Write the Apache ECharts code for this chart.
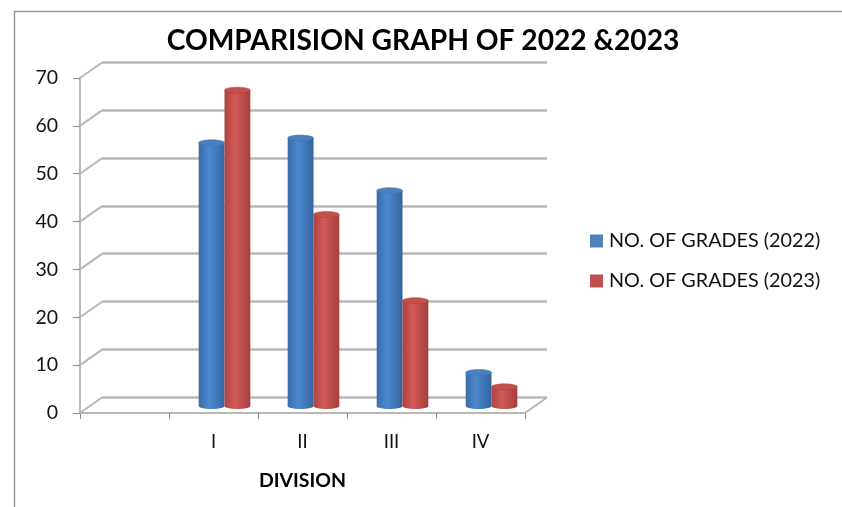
<!DOCTYPE html>
<html><head><meta charset="utf-8">
<style>html,body{margin:0;padding:0;background:#fff}#c{width:842px;height:507px}</style>
<script src="https://cdn.jsdelivr.net/npm/echarts@6/dist/echarts.min.js"></script>
</head><body><div id="c"></div>
<script>
const categories = ['', 'I', 'II', 'III', 'IV'];
const grades2022 = [null, 55, 56, 45, 7];
const grades2023 = [null, 66, 40, 22, 4];
const yTicks = [0, 10, 20, 30, 40, 50, 60, 70];
const titleText = 'COMPARISION GRAPH OF 2022 &2023';
const xName = 'DIVISION';
const name2022 = 'NO. OF GRADES (2022)';
const name2023 = 'NO. OF GRADES (2023)';

const FONT = 'Lato, "Open Sans", sans-serif';
const GRAY = '#b8b8b8';
const DEPTH_X = 22, DEPTH_Y = 15.5;

function linear(c0, c1, c2) {
  return { type: 'linear', x: 0, y: 0, x2: 1, y2: 0, colorStops: [
    { offset: 0, color: c0 }, { offset: 0.4, color: c1 }, { offset: 1, color: c2 } ] };
}
function cylinder(side, top, fill, edge) {
  return function (params, api) {
    const v = api.value(1);
    const i = api.value(0);
    const w = api.size([1, 0])[0] * 0.29;
    const cx = api.coord([i, 0])[0] + side * w / 2;
    const yTop = api.coord([i, v])[1];
    const yBase = api.coord([i, 0])[1];
    const rx = w / 2, ry = 3;
    return { type: 'group', children: [
      { type: 'ellipse', shape: { cx: cx, cy: yBase, rx: rx, ry: ry }, style: { fill: fill } },
      { type: 'rect', shape: { x: cx - rx, y: yTop, width: w, height: yBase - yTop }, style: { fill: fill } },
      { type: 'ellipse', shape: { cx: cx, cy: yTop, rx: rx, ry: ry }, style: { fill: top, stroke: edge, lineWidth: 0.5 } }
    ] };
  };
}
function barData(values) {
  return values.map((v, i) => [i, v]).filter(d => d[1] !== null);
}

const chart = echarts.init(document.getElementById('c'), null, { renderer: 'canvas' });
chart.setOption({
  animation: false,
  backgroundColor: '#fff',
  title: {
    text: titleText, left: 418, top: 22, textAlign: 'center',
    textStyle: { fontFamily: FONT, fontWeight: 'bold', fontSize: 28.2, color: '#000' }
  },
  graphic: [
    { type: 'polyline', silent: true, shape: { points: [[14.5, 507], [14.5, 11.5], [842, 11.5]] },
      style: { stroke: '#9a9a9a', lineWidth: 1.5, fill: null } }
  ],
  legend: {
    data: [name2022, name2023], orient: 'vertical', left: 585, top: 226, itemGap: 20,
    itemWidth: 13, itemHeight: 13, icon: 'rect',
    textStyle: { fontFamily: FONT, fontSize: 19.8, color: '#111', padding: [0, 0, 0, 1] }
  },
  grid: [
    { left: 80, top: 78, width: 445, height: 335 },
    { left: 102, top: 62, width: 445, height: 335.5 },
    { left: 91, top: 71, width: 445, height: 335 }
  ],
  xAxis: [
    { gridIndex: 0, type: 'category', data: categories, boundaryGap: true,
      axisLine: { show: true, lineStyle: { color: GRAY, width: 2 } },
      axisTick: { show: true, alignWithLabel: false, length: 6, lineStyle: { color: '#8a8a8a', width: 1 } },
      axisLabel: { interval: 0, margin: 20, fontFamily: FONT, fontSize: 18.5, color: '#111' },
      name: xName, nameLocation: 'center', nameGap: 58,
      nameTextStyle: { fontFamily: FONT, fontWeight: 'bold', fontSize: 19.5, color: '#000' } },
    { gridIndex: 1, type: 'category', data: categories, show: false },
    { gridIndex: 2, type: 'category', data: categories, show: false }
  ],
  yAxis: [
    { gridIndex: 0, type: 'value', min: 0, max: 70, interval: 10,
      axisLine: { show: true, lineStyle: { color: GRAY, width: 2 } },
      axisTick: { show: true, length: 7, lineStyle: { color: '#8a8a8a', width: 1 } },
      splitLine: { show: false },
      axisLabel: { margin: 22, fontFamily: FONT, fontSize: 19.5, color: '#111' } },
    { gridIndex: 1, type: 'value', min: 0, max: 70, interval: 10,
      axisLine: { show: false }, axisTick: { show: false }, axisLabel: { show: false },
      splitLine: { show: true, lineStyle: { color: GRAY, width: 2.5 } } },
    { gridIndex: 2, type: 'value', min: 0, max: 70, interval: 10, show: false, splitLine: { show: false } }
  ],
  series: [
    { type: 'custom', silent: true, xAxisIndex: 0, yAxisIndex: 0, clip: false, z: 1,
      data: yTicks.map(t => [0, t]),
      renderItem: function (params, api) {
        const y = api.coord([0, api.value(1)])[1];
        const x = params.coordSys.x;
        const right = x + params.coordSys.width;
        const children = [{ type: 'line',
          shape: { x1: x, y1: y, x2: x + DEPTH_X, y2: y - DEPTH_Y },
          style: { stroke: GRAY, lineWidth: 2 } }];
        if (api.value(1) === 0) children.push({ type: 'line',
          shape: { x1: right, y1: y, x2: right + DEPTH_X, y2: y - DEPTH_Y },
          style: { stroke: GRAY, lineWidth: 2 } });
        return { type: 'group', children: children };
      } },
    { name: name2022, type: 'custom', xAxisIndex: 2, yAxisIndex: 2, clip: false, z: 3,
      itemStyle: { color: '#4f81bd' }, data: barData(grades2022),
      encode: { x: 0, y: 1 },
      renderItem: cylinder(-1, '#4a7fc0', linear('#3a6ca8', '#4d8ad0', '#34649f'), '#3f70aa') },
    { name: name2023, type: 'custom', xAxisIndex: 2, yAxisIndex: 2, clip: false, z: 4,
      itemStyle: { color: '#c0504d' }, data: barData(grades2023),
      encode: { x: 0, y: 1 },
      renderItem: cylinder(1, '#c4504c', linear('#ae4340', '#d25c58', '#a53d3a'), '#a5403d') }
  ]
});
</script></body></html>
